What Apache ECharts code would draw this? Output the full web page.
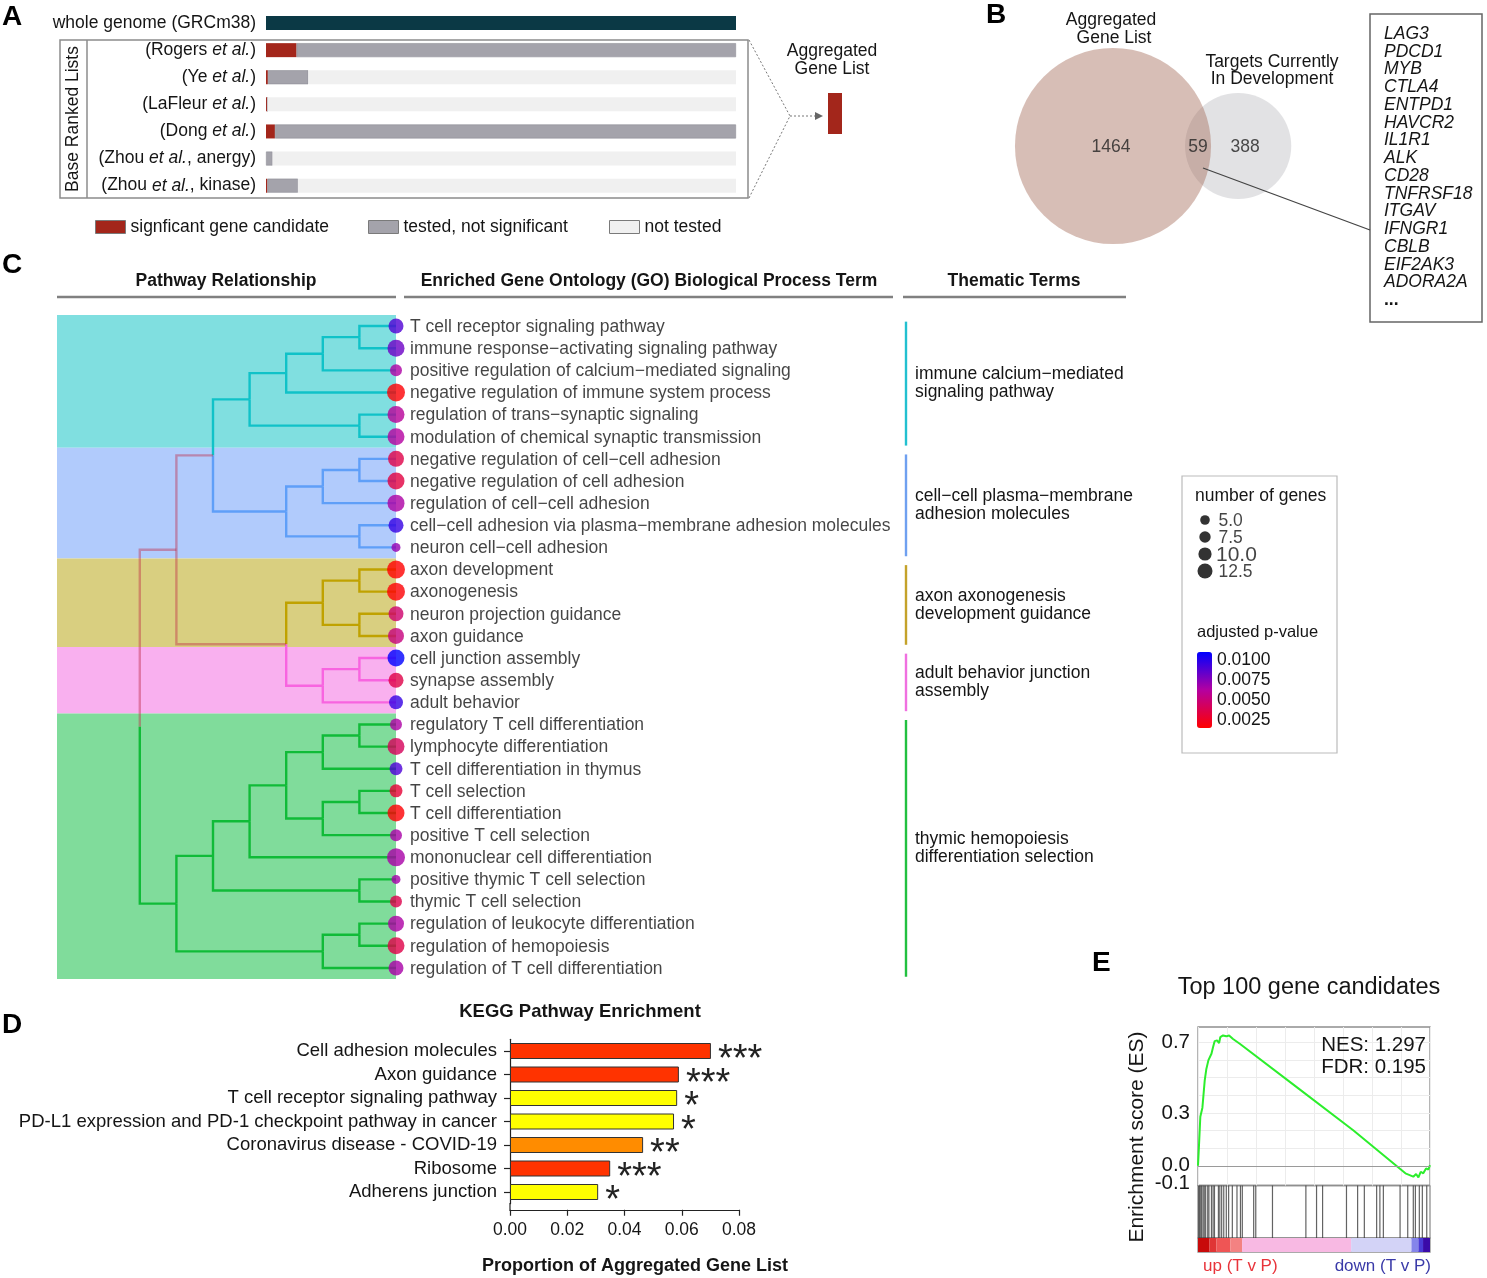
<!DOCTYPE html>
<html><head><meta charset="utf-8">
<script src="https://cdn.jsdelivr.net/npm/echarts@6/dist/echarts.min.js"></script>
<style>html,body{margin:0;padding:0;background:#fff}#c{width:1487px;height:1278px}</style>
</head><body><div id="c"></div>
<script>
// ---------------- DATA ----------------
// Panel A
const aCategories = ['whole genome (GRCm38)', '(Rogers et al.)', '(Ye et al.)', '(LaFleur et al.)', '(Dong et al.)', '(Zhou et al., anergy)', '(Zhou et al., kinase)'];
const aWholeGenome = [100, '-', '-', '-', '-', '-', '-'];
const aSignificant = ['-', 6.5, 0.4, 0.3, 1.9, 0, 0.3];
const aTested      = ['-', 93.5, 8.6, 0, 98.1, 1.4, 6.5];
const aNotTested   = ['-', 0, 91.0, 99.7, 0, 98.6, 93.2];
const aLegendNames = ['signficant gene candidate', 'tested, not significant', 'not tested'];

// Panel B
const vennSetNames = ['Aggregated Gene List', 'Targets Currently In Development'];
const vennOnly = [1464, 388];
const vennShared = 59;
const vennSharedGenes = ['LAG3','PDCD1','MYB','CTLA4','ENTPD1','HAVCR2','IL1R1','ALK','CD28','TNFRSF18','ITGAV','IFNGR1','CBLB','EIF2AK3','ADORA2A'];

// Panel C
const goTerms = [
 'T cell receptor signaling pathway',
 'immune response\u2212activating signaling pathway',
 'positive regulation of calcium\u2212mediated signaling',
 'negative regulation of immune system process',
 'regulation of trans\u2212synaptic signaling',
 'modulation of chemical synaptic transmission',
 'negative regulation of cell\u2212cell adhesion',
 'negative regulation of cell adhesion',
 'regulation of cell\u2212cell adhesion',
 'cell\u2212cell adhesion via plasma\u2212membrane adhesion molecules',
 'neuron cell\u2212cell adhesion',
 'axon development',
 'axonogenesis',
 'neuron projection guidance',
 'axon guidance',
 'cell junction assembly',
 'synapse assembly',
 'adult behavior',
 'regulatory T cell differentiation',
 'lymphocyte differentiation',
 'T cell differentiation in thymus',
 'T cell selection',
 'T cell differentiation',
 'positive T cell selection',
 'mononuclear cell differentiation',
 'positive thymic T cell selection',
 'thymic T cell selection',
 'regulation of leukocyte differentiation',
 'regulation of hemopoiesis',
 'regulation of T cell differentiation'];
const goCluster   = [0,0,0,0,0,0, 1,1,1,1,1, 2,2,2,2, 3,3,3, 4,4,4,4,4,4,4,4,4,4,4,4];
const goGeneCount = [10,12,7,13,12,12, 11,12,12,10,4, 13,13,10,11, 12,10,9, 7,12,8,8,12,7,13,4,7,11,12,10];
const goAdjP = [0.0085,0.0078,0.0062,0.0016,0.0058,0.0060, 0.0035,0.0033,0.0062,0.0092,0.0068, 0.0015,0.0016,0.0045,0.0050, 0.0105,0.0035,0.0092, 0.0062,0.0040,0.0086,0.0030,0.0016,0.0063,0.0063,0.0064,0.0036,0.0062,0.0035,0.0063];
// merges: [childA, childB, merge level]; node ids continue after the 30 leaves
const goMerges = [
 [0,1,1],[30,2,2],[31,3,3],[4,5,1],[32,33,4],
 [6,7,1],[35,8,2],[9,10,1],[36,37,3],[34,38,5],
 [11,12,1],[13,14,1],[40,41,2],[15,16,1],[43,17,2],[42,44,3],[39,45,6],
 [18,19,1],[47,20,2],[21,22,1],[49,23,2],[48,50,3],[51,24,4],[25,26,1],[52,53,5],[27,28,1],[55,29,2],[54,56,6],
 [46,57,7]];
const clusterThemes = ['immune calcium\u2212mediated\nsignaling pathway', 'cell\u2212cell plasma\u2212membrane\nadhesion molecules', 'axon axonogenesis\ndevelopment guidance', 'adult behavior junction\nassembly', 'thymic hemopoiesis\ndifferentiation selection'];
const sizeLegendValues = [5.0, 7.5, 10.0, 12.5];
const pLegendTicks = [0.0025, 0.0050, 0.0075, 0.0100];

// Panel D
const keggPathways = ['Cell adhesion molecules','Axon guidance','T cell receptor signaling pathway','PD-L1 expression and PD-1 checkpoint pathway in cancer','Coronavirus disease - COVID-19','Ribosome','Adherens junction'];
const keggProportion = [0.0702, 0.0590, 0.0584, 0.0573, 0.0465, 0.0350, 0.0308];
const keggSignif = ['***','***','*','*','**','***','*'];

// Panel E
const esRankPct = [0,0.4,1.0,1.6,1.9,2.4,2.9,3.6,4.5,5.3,5.8,6.5,7.2,8.2,9.1,9.6,10.8,12.2,13.4,15.1,18.0,42.4,66.9,89.4,92.8,94.0,95.0,96.0,97.1,98.3,99.3,100];
const esValue   = [0,0.108,0.278,0.282,0.330,0.337,0.485,0.550,0.600,0.610,0.636,0.674,0.708,0.712,0.697,0.730,0.740,0.735,0.740,0.720,0.693,0.448,0.202,-0.043,-0.062,-0.047,-0.066,-0.034,-0.043,-0.015,-0.021,0.004];
const esTickLabels = [0.0, 0.3, 0.7];
const esLowTickLabels = [-0.1];
const hitRankPct = [0.3,0.7,1.2,1.6,2.2,2.7,3.3,4.2,4.7,5.8,6.5,7.1,8.8,9.4,10.2,11.1,12.2,13.2,14.8,16.8,18.3,19.1,24.0,24.9,32.1,46.5,51.1,53.7,64.0,68.8,71.7,77.0,78.4,79.9,87.1,90.4,92.8,93.7,95.4,96.7,98.6];
const rankBandEnd = [5, 8, 14, 19, 66, 92, 95, 97, 100];
const esStats = ['NES: 1.297', 'FDR: 0.195'];

// ---------------- STYLE ----------------
const FONT = '"Liberation Sans", Arial, Helvetica, sans-serif';
const TXT = '#151515';
const rankBandColor = ['#c80a0a','#e03535','#ef5555','#f38282','#f8b9e3','#d3d3f7','#8585ea','#4a3ad6','#3a0aa8'];
const BAND_FILL = ['#80dfe0','#b1cbfc','#d9cf80','#f9b0ef','#80dc9b'];
const TREE_LINE = ['#10c2c8','#5f9ff8','#c0a200','#f864e0','#10bb38'];
const THEME_LINE = ['#22c0d0','#6fa0f0','#c4a22a','#f070e0','#22c040'];
const MIXED = 'rgba(190,40,70,0.42)';
const SIG_COLOR = {'***':'#ff3300','**':'#ff8c00','*':'#ffff00'};
const TREE_MAX = 339/36.6;

// ---------------- DERIVED ----------------
const nodeY = {}, nodeH = {}, nodeCl = {};
goTerms.forEach((t,i)=>{ nodeY[i]=i; nodeH[i]=0; nodeCl[i]=goCluster[i]; });
const treeLinks = [];
goMerges.forEach((m, idx) => {
  const id = goTerms.length + idx;
  const [a,b,h] = m;
  nodeY[id] = (nodeY[a]+nodeY[b])/2; nodeH[id] = h;
  nodeCl[id] = nodeCl[a]===nodeCl[b] ? nodeCl[a] : -1;
  [a,b].forEach(c => treeLinks.push([h, nodeY[id], nodeH[c], nodeY[c], nodeCl[c]]));
});
const clusterRanges = [];
goCluster.forEach((c,i)=>{
  const last = clusterRanges[clusterRanges.length-1];
  if (last && last[2]===c) last[1]=i; else clusterRanges.push([i,i,c]);
});

// ---------------- CHART ----------------
const chart = echarts.init(document.getElementById('c'), null, {renderer:'canvas', width:1487, height:1278});
const G = (o) => Object.assign({containLabel:false, outerBoundsMode:'none'}, o);
const hidden = (gi, o) => Object.assign({gridIndex:gi, type:'value', show:false}, o);

const series = [];
// Panel A bars
const aCommon = {type:'bar', stack:'a', xAxisIndex:0, yAxisIndex:0, barWidth:14, silent:true};
series.push(Object.assign({name:'whole genome', data:aWholeGenome, itemStyle:{color:'#0b3945'}}, aCommon));
series.push(Object.assign({name:aLegendNames[0], data:aSignificant, itemStyle:{color:'#a3261b'}}, aCommon));
series.push(Object.assign({name:aLegendNames[1], data:aTested, itemStyle:{color:'#a4a3ab', borderColor:'#8f8f97', borderWidth:0.6}}, aCommon));
series.push(Object.assign({name:aLegendNames[2], data:aNotTested, itemStyle:{color:'#f0f0f0'}}, aCommon));

// Panel B venn
const VK = 2.512;
const r1 = VK*Math.sqrt(vennOnly[0]+vennShared), r2 = VK*Math.sqrt(vennOnly[1]+vennShared);
const cx1 = 113, cx2 = cx1 + r1 + r2 - 26;
const vLabel = {show:true, position:'inside', fontSize:17.5, color:'#222', fontFamily:FONT};
series.push({type:'scatter', xAxisIndex:1, yAxisIndex:1, silent:true, clip:false, z:2,
  data:[[cx2,0.5,vennOnly[1]+vennShared]], symbolSize:(v)=>2*VK*Math.sqrt(v[2]),
  itemStyle:{color:'rgba(160,160,166,0.38)'}, label:Object.assign({}, vLabel, {offset:[7,1], formatter:()=>String(vennOnly[1])})});
series.push({type:'scatter', xAxisIndex:1, yAxisIndex:1, silent:true, clip:false, z:3,
  data:[[cx1,0.5,vennOnly[0]+vennShared]], symbolSize:(v)=>2*VK*Math.sqrt(v[2]),
  itemStyle:{color:'rgba(165,108,88,0.55)'}, label:Object.assign({}, vLabel, {offset:[-2,1], formatter:()=>String(vennOnly[0])})});
series.push({type:'scatter', xAxisIndex:1, yAxisIndex:1, silent:true, clip:false, z:4,
  data:[[(cx2 - r2 + cx1 + r1)/2, 0.5]], symbolSize:1, itemStyle:{color:'rgba(0,0,0,0)'},
  label:Object.assign({}, vLabel, {offset:[0,1], formatter:()=>String(vennShared)})});

// Panel C bands
series.push({type:'custom', xAxisIndex:2, yAxisIndex:2, silent:true, z:1, data:clusterRanges,
  encode:{x:[], y:[0,1]},
  renderItem:(p, api)=>{
    const a = api.coord([TREE_MAX, api.value(0)-0.5]); const b = api.coord([0, api.value(1)+0.5]);
    return {type:'rect', shape:{x:Math.min(a[0],b[0]), y:a[1], width:Math.abs(b[0]-a[0]), height:b[1]-a[1]}, style:{fill:BAND_FILL[api.value(2)]}};
  }});
series.push({type:'custom', xAxisIndex:2, yAxisIndex:2, silent:true, z:2, data:treeLinks,
  encode:{x:[0,2], y:[1,3]},
  renderItem:(p, api)=>{
    const p1 = api.coord([api.value(0), api.value(1)]);
    const p2 = api.coord([api.value(0), api.value(3)]);
    const p3 = api.coord([api.value(2), api.value(3)]);
    const cl = api.value(4);
    return {type:'polyline', shape:{points:[p1,p2,p3]}, style:{stroke: cl<0 ? MIXED : TREE_LINE[cl], lineWidth:2.4, fill:'none'}};
  }});
series.push({type:'custom', xAxisIndex:2, yAxisIndex:2, silent:true, z:2, data:clusterRanges, clip:false,
  encode:{x:[], y:[0,1]},
  renderItem:(p, api)=>{
    const s = api.value(0), e = api.value(1), c = api.value(2);
    const a = api.coord([0, s-0.2]); const b = api.coord([0, e+0.4]); const m = api.coord([0, (s+e)/2]);
    const lx = a[0] + 510;
    return {type:'group', children:[
      {type:'line', shape:{x1:lx, y1:a[1], x2:lx, y2:b[1]}, style:{stroke:THEME_LINE[c], lineWidth:2.4}},
      {type:'text', x:lx+9, y:m[1]+2, style:{text:clusterThemes[c], fill:TXT, fontSize:17.5, fontFamily:FONT, lineHeight:18,
        align:'left', verticalAlign:'middle', textAlign:'left', textVerticalAlign:'middle'}}
    ]};
  }});
const dotSeriesIndex = series.length;
series.push({type:'scatter', xAxisIndex:2, yAxisIndex:2, silent:true, clip:false, z:5,
  data:goTerms.map((t,i)=>[0, i, goGeneCount[i], goAdjP[i]]),
  symbolSize:(v)=>v[2]+5});
series.push({type:'scatter', xAxisIndex:2, yAxisIndex:2, silent:true, clip:false, z:5,
  data:goTerms.map((t,i)=>[0, i]), symbolSize:1, itemStyle:{color:'rgba(0,0,0,0)'},
  label:{show:true, position:'right', distance:13.5, offset:[0,1], formatter:(p)=>goTerms[p.dataIndex], fontSize:17.5, color:TXT, fontFamily:FONT}});

// size legend
const legendDot = (n) => 6 + n*0.72;
series.push({type:'scatter', xAxisIndex:3, yAxisIndex:3, silent:true, clip:false,
  data:sizeLegendValues.map((v,i)=>{
    const big = (v===10);
    return {value:[0,i], label:{show:true, position:'right', distance:(big?11:13.5)-legendDot(v)/2, fontSize:big?21:17.5,
      formatter:v.toFixed(1), color:TXT, fontFamily:FONT, offset:[0,1]}};
  }),
  symbolSize:(val, p)=>legendDot(sizeLegendValues[p.dataIndex]), itemStyle:{color:'#000'}});

// Panel D
series.push({type:'bar', xAxisIndex:5, yAxisIndex:5, silent:true, barWidth:16,
  data:keggProportion.map((v,i)=>({value:v, itemStyle:{color:SIG_COLOR[keggSignif[i]]}})),
  itemStyle:{borderColor:'#333', borderWidth:1},
  label:{show:true, position:'right', distance:7, offset:[0,10], formatter:(p)=>keggSignif[p.dataIndex], fontSize:38, color:'#222', fontFamily:FONT}});

// Panel E
series.push({type:'line', xAxisIndex:6, yAxisIndex:6, silent:true, showSymbol:false, symbol:'none',
  data:esRankPct.map((x,i)=>[x, esValue[i]]), lineStyle:{color:'#2cee2c', width:2}, itemStyle:{color:'#2cee2c'},
  markLine:{silent:true, symbol:'none', label:{show:false}, lineStyle:{color:'#9a9a9a', width:1.2, type:'solid'}, data:[{yAxis:0}], animation:false}});
series.push({type:'scatter', xAxisIndex:7, yAxisIndex:7, silent:true, symbol:'rect', symbolSize:[1.2, 52.5],
  data:hitRankPct.map(x=>[x,0.5]), itemStyle:{color:'#3c3c3c'}});
rankBandEnd.forEach((e,i)=>{
  const w = e - (i ? rankBandEnd[i-1] : 0);
  series.push({type:'bar', xAxisIndex:8, yAxisIndex:8, stack:'rank', silent:true, barWidth:'100%', data:[w], itemStyle:{color:rankBandColor[i]}});
});

// ---------------- GRAPHIC ----------------
function txt(x, y, text, o) {
  o = o || {};
  return {type:'text', x:x, y:y, rotation:o.rot||0, silent:true, z:100, style:{text:text, fill:o.color||TXT,
    fontSize:o.size||17.5, fontWeight:o.weight||'normal', fontStyle:o.fstyle||'normal', fontFamily:FONT,
    align:o.align||'left', verticalAlign:o.va||'middle', textAlign:o.align||'left', textVerticalAlign:o.va||'middle'}};
}
function line(x1,y1,x2,y2,stroke,lw,dash){ return {type:'line', silent:true, z:100, shape:{x1,y1,x2,y2}, style:{stroke, lineWidth:lw||1, lineDash:dash||null}}; }
function rect(x,y,w,h,fill,stroke,lw){ return {type:'rect', silent:true, z:99, shape:{x,y,width:w,height:h}, style:{fill:fill||'none', stroke:stroke||null, lineWidth:lw||1}}; }

const graphics = [
  // panel letters
  txt(2, 17, 'A', {size:28, weight:'bold', color:'#000'}),
  txt(986, 15, 'B', {size:28, weight:'bold', color:'#000'}),
  txt(2, 265, 'C', {size:28, weight:'bold', color:'#000'}),
  txt(2, 1025, 'D', {size:28, weight:'bold', color:'#000'}),
  txt(1092, 963, 'E', {size:28, weight:'bold', color:'#000'}),
  // panel A decorations
  rect(60, 40, 688, 158, 'none', '#8c8c8c', 1.5),
  line(87, 40, 87, 198, '#8c8c8c', 1.5),
  txt(73, 119, 'Base Ranked Lists', {rot:Math.PI/2, align:'center'}),
  line(749, 40, 790, 116, '#777', 1, [2,2]),
  line(749, 198, 790, 116, '#777', 1, [2,2]),
  line(790, 116, 816, 116, '#777', 1, [2,2]),
  {type:'polygon', silent:true, z:100, shape:{points:[[815,112],[823,116],[815,120]]}, style:{fill:'#666'}},
  rect(828, 93, 14, 41, '#a3261b', null, 0),
  txt(832, 51, 'Aggregated', {align:'center'}),
  txt(832, 69, 'Gene List', {align:'center'}),
  // panel B
  txt(1111, 20, 'Aggregated', {align:'center'}),
  txt(1114, 38, 'Gene List', {align:'center'}),
  txt(1272, 62, 'Targets Currently', {align:'center'}),
  txt(1272, 79, 'In Development', {align:'center'}),
  rect(1370, 14, 112, 308, 'none', '#666', 1.5),
  line(1203, 168, 1370, 230, '#444', 1.3),
  txt(1384, 300, '...', {weight:'bold'}),
  // panel C headers
  txt(226, 281, 'Pathway Relationship', {align:'center', weight:'bold'}),
  txt(649, 281, 'Enriched Gene Ontology (GO) Biological Process Term', {align:'center', weight:'bold'}),
  txt(1014, 281, 'Thematic Terms', {align:'center', weight:'bold'}),
  line(57, 297, 396, 297, '#808080', 2.5),
  line(404, 297, 893, 297, '#808080', 2.5),
  line(903, 297, 1126, 297, '#808080', 2.5),
  // legend box
  rect(1182, 476, 155, 277, 'none', '#bbbbbb', 1.2),
  txt(1195, 496, 'number of genes', {size:17.5}),
  txt(1197, 632, 'adjusted p-value', {size:16.5}),
  // panel D
  txt(580, 1012, 'KEGG Pathway Enrichment', {align:'center', weight:'bold', size:18.5}),
  txt(635, 1266, 'Proportion of Aggregated Gene List', {align:'center', weight:'bold', size:18}),
  line(510, 1203, 510, 1210.5, '#222', 1.2),
  // panel E
  txt(1309, 988, 'Top 100 gene candidates', {align:'center', size:23.5}),
  txt(1137, 1137, 'Enrichment score (ES)', {rot:Math.PI/2, align:'center', size:21}),
  txt(1426, 1045, esStats[0], {align:'right', size:20.5}),
  txt(1426, 1067, esStats[1], {align:'right', size:20.5}),
  txt(1203, 1266, 'up (T v P)', {color:'#e8333a', size:17}),
  txt(1431, 1266, 'down (T v P)', {align:'right', color:'#3a3aa8', size:17}),
];
vennSharedGenes.forEach((g,i)=>graphics.push(txt(1384, 34 + i*17.75, g, {fstyle:'italic'})));

const legendBase = (left, name) => ({left, top:218, padding:0, icon:'rect', itemWidth:30, itemHeight:13, selectedMode:false,
  data:[{name, itemStyle:{borderColor:'#7a7a7a', borderWidth:1}}], textStyle:{fontSize:17.5, color:TXT, fontFamily:FONT}});

const esLabelAxis = (vals, extra) => Object.assign({gridIndex:6, type:'value', position:'left', min:-0.112, max:0.788, axisLine:{show:false},
  axisTick:{show:false}, splitLine:{show:false},
  axisLabel:Object.assign({customValues:vals, hideOverlap:false, formatter:(v)=>v.toFixed(1), fontSize:20.5, color:TXT, margin:8}, extra||{})});

const option = {
  animation:false,
  textStyle:{fontFamily:FONT},
  legend:[legendBase(95, aLegendNames[0]), legendBase(368, aLegendNames[1]), legendBase(609, aLegendNames[2])],
  grid:[
    G({left:266, top:9.5, width:470, height:189.7}),
    G({left:1000, top:41, width:320, height:210}),
    G({left:57, top:315, width:339, height:664}),
    G({left:1205, top:520, width:10, height:51}),
    G({left:1205, top:660, width:2, height:60}),
    G({left:510, top:1039.25, width:229, height:164.5}),
    G({left:1198, top:1027, width:232, height:158.5, show:true, borderColor:'#8f8f8f', borderWidth:1.3, backgroundColor:'transparent'}),
    G({left:1198, top:1185.5, width:232, height:52.5, show:true, borderColor:'#8f8f8f', borderWidth:1.3, backgroundColor:'transparent'}),
    G({left:1198, top:1238, width:232, height:14, show:true, borderColor:'#8f8f8f', borderWidth:1.3, backgroundColor:'transparent'})
  ],
  xAxis:[
    hidden(0, {min:0, max:100}),
    hidden(1, {min:0, max:320}),
    hidden(2, {min:0, max:TREE_MAX, inverse:true}),
    hidden(3, {min:0, max:1}),
    hidden(4, {min:0, max:1}),
    {gridIndex:5, type:'value', min:0, max:0.08, interval:0.02, offset:6,
      axisLine:{show:true, lineStyle:{color:'#222', width:1.2}}, axisTick:{show:true, length:6, lineStyle:{color:'#222', width:1.2}},
      splitLine:{show:false}, axisLabel:{formatter:(v)=>v.toFixed(2), fontSize:17.5, color:TXT, margin:11}},
    {gridIndex:6, type:'value', min:0, max:100, interval:12.5, axisLine:{show:false}, axisTick:{show:false}, axisLabel:{show:false},
      splitLine:{show:true, lineStyle:{color:'#ececec', width:1}}},
    hidden(7, {min:0, max:100}),
    hidden(8, {min:0, max:100})
  ],
  yAxis:[
    {gridIndex:0, type:'category', data:aCategories, inverse:true, axisLine:{show:false}, axisTick:{show:false},
      axisLabel:{interval:0, margin:10, fontSize:17.5, color:TXT, formatter:(v)=>v.replace('et al.', '{i|et al.}'),
        rich:{i:{fontStyle:'italic', fontSize:17.5, color:TXT, fontFamily:FONT}}}},
    hidden(1, {min:0, max:1}),
    hidden(2, {min:-0.5, max:goTerms.length-0.5, inverse:true}),
    hidden(3, {min:0, max:3, inverse:true}),
    {gridIndex:4, type:'value', position:'right', min:0.0025, max:0.01, interval:0.0025, axisLine:{show:false}, axisTick:{show:false},
      splitLine:{show:false}, axisLabel:{formatter:(v)=>v.toFixed(4), margin:10, fontSize:17.5, color:TXT}},
    {gridIndex:5, type:'category', data:keggPathways, inverse:true,
      axisLine:{show:true, lineStyle:{color:'#222', width:1.2}}, axisTick:{show:true, length:6, alignWithLabel:true, lineStyle:{color:'#222', width:1.2}},
      axisLabel:{interval:0, margin:13, fontSize:18.5, color:TXT}},
    {gridIndex:6, type:'value', min:-0.112, max:0.788, axisLine:{show:false},
      axisTick:{show:false, customValues:[0.1,0.2,0.3,0.4,0.5,0.6,0.7]},
      splitLine:{show:true, lineStyle:{color:'#ececec', width:1}},
      axisLabel:{customValues:esTickLabels, hideOverlap:false, formatter:(v)=>v.toFixed(1), fontSize:20.5, color:TXT, margin:8}},
    hidden(7, {min:0, max:1}),
    {gridIndex:8, type:'category', data:['rank'], show:false},
    esLabelAxis(esLowTickLabels, {padding:[5,0,0,0]})
  ],
  visualMap:[{type:'continuous', seriesIndex:dotSeriesIndex, dimension:3, min:0.0015, max:0.0105,
    left:1197, top:652, itemWidth:15, itemHeight:76, padding:0, calculable:false, hoverLink:false, text:null,
    inRange:{color:['#ff0000','#b400a0','#0000ff']}, textStyle:{color:'transparent'}}],
  graphic:{elements:graphics},
  series:series
};
chart.setOption(option);
</script>
</body></html>
